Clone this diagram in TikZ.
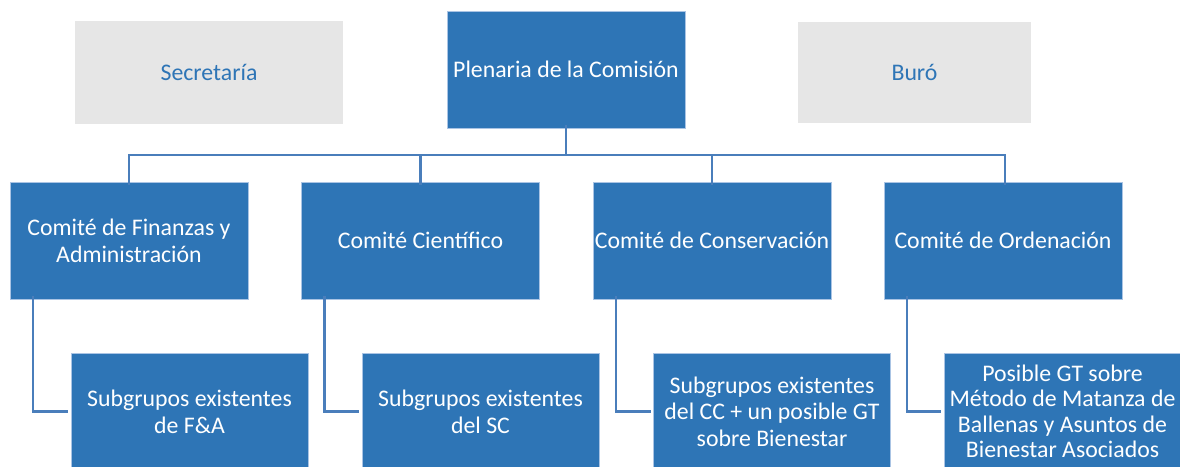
\documentclass[tikz,border=0pt]{standalone}
\usepackage{fontspec}
\setmainfont{Carlito}
\definecolor{boxblue}{RGB}{46,117,182}
\definecolor{boxedge}{RGB}{170,196,228}
\definecolor{linkblue}{RGB}{74,126,187}
\definecolor{grayfill}{RGB}{230,230,230}
\begin{document}
\begin{tikzpicture}[x=1pt,y=-1pt,
  bluebox/.style={rectangle, fill=boxblue, draw=boxedge, line width=0.6pt,
    text=white, align=center, inner sep=0pt, outer sep=0pt,
    minimum width=238pt, minimum height=117pt,
    font=\fontsize{23.8}{27}\selectfont},
  graybox/.style={rectangle, fill=grayfill, text=boxblue, align=center,
    inner sep=0pt, outer sep=0pt, font=\fontsize{23.8}{27}\selectfont},
  conn/.style={draw=linkblue, line width=2.6pt}]
\clip (0,0) rectangle (1180,466);
\fill[white] (0,0) rectangle (1180,466);
% top row
\node[graybox, minimum width=268pt, minimum height=103pt] (sec) at (209,72.5) {Secretaría};
\node[bluebox] (plen) at (566,69.5) {Plenaria de la Comisión};
\node[graybox, minimum width=233pt, minimum height=101pt] (buro) at (914.5,72.5) {Buró};
% committees
\node[bluebox] (c1) at (129,240.5) {Comité de Finanzas y\\Administración};
\node[bluebox] (c2) at (420.5,240.5) {Comité Científico};
\node[bluebox] (c3) at (712,240.5) {Comité de Conservación};
\node[bluebox] (c4) at (1003,240.5) {Comité de Ordenación};
% subgroups
\node[bluebox, minimum width=237pt] (s1) at (189.5,411.5) {Subgrupos existentes\\de F\&A};
\node[bluebox, minimum width=237pt] (s2) at (480.5,411.5) {Subgrupos existentes\\del SC};
\node[bluebox, minimum width=237pt, font=\fontsize{23.8}{26.5}\selectfont] (s3) at (772,411.5) {Subgrupos existentes\\del CC + un posible GT\\sobre Bienestar};
\node[bluebox, minimum width=237pt, font=\fontsize{23.8}{25.4}\selectfont] (s4) at (1062.5,411.5) {Posible GT sobre\\Método de Matanza de\\Ballenas y Asuntos de\\Bienestar Asociados};
% connectors
\coordinate (bus) at (0,155);
\draw[conn] ([yshift=3pt]plen.south) -- (plen.south |- bus);
\draw[conn] ([yshift=-3pt]c1.north) -- (c1.north |- bus) -- ([xshift=2pt]c4.north |- bus) -- ([xshift=2pt,yshift=-3pt]c4.north);
\draw[conn] ([yshift=-3pt]c2.north) -- (c2.north |- bus);
\draw[conn] ([yshift=-3pt]c3.north) -- (c3.north |- bus);
\draw[conn] ([xshift=23pt,yshift=3pt]c1.south west) |- ([xshift=-3pt]s1.west);
\draw[conn] ([xshift=23pt,yshift=3pt]c2.south west) |- ([xshift=-3pt]s2.west);
\draw[conn] ([xshift=23pt,yshift=3pt]c3.south west) |- ([xshift=-3pt]s3.west);
\draw[conn] ([xshift=23pt,yshift=3pt]c4.south west) |- ([xshift=-3pt]s4.west);
\end{tikzpicture}
\end{document}
